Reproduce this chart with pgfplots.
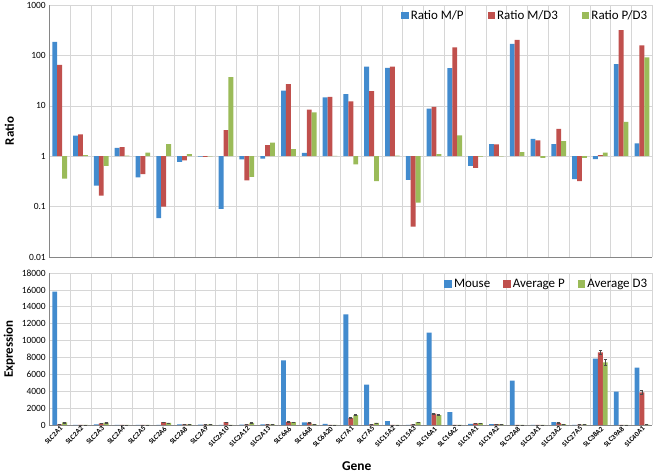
\documentclass[border=0pt]{standalone}
\usepackage{pgfplots}
\pgfplotsset{compat=1.18}
\usepackage{pgfplotstable}
\usepackage{fontspec}
\setmainfont{Carlito}
\definecolor{cblue}{RGB}{66,139,206}
\definecolor{cred}{RGB}{192,80,77}
\definecolor{cgreen}{RGB}{155,187,89}
\definecolor{gridc}{RGB}{214,214,214}
\definecolor{axc}{RGB}{134,134,134}

\pgfplotstableread{
x mp md3 pd3
0 185 65 0.36
1 2.55 2.7 1.05
2 0.26 0.166 0.64
3 1.47 1.51 1.03
4 0.38 0.44 1.18
5 0.059 0.1 1.74
6 0.77 0.83 1.1
7 0.98 0.97 0.99
8 0.09 3.3 36.9
9 0.87 0.33 0.39
10 0.9 1.66 1.85
11 20 27 1.38
12 1.17 8.4 7.4
13 14.7 15.1 1.02
14 17.1 12.2 0.69
15 60 19.6 0.32
16 56.7 60 1.03
17 0.34 0.04 0.12
18 8.8 9.5 1.1
19 55.8 144 2.6
20 0.64 0.59 0.98
21 1.74 1.71 0.99
22 169 203 1.2
23 2.2 2.06 0.93
24 1.74 3.47 2.0
25 0.35 0.32 0.93
26 0.88 1.05 1.18
27 67 316 4.8
28 1.8 158 91
}\ratios

\pgfplotstableread{
x mouse avgp avgd ep ed
0 15790 60 300 20 40
1 10 10 10 0 0
2 60 200 280 20 20
3 10 10 10 0 0
4 10 10 10 0 0
5 30 355 240 20 20
6 60 80 80 10 10
7 40 50 60 10 10
8 30 355 20 30 0
9 50 60 250 0 30
10 80 80 80 10 10
11 7660 360 340 30 30
12 320 280 100 20 10
13 130 20 10 0 0
14 13100 830 1180 60 60
15 4775 60 240 0 20
16 470 10 10 0 0
17 20 60 355 0 30
18 10930 1340 1180 80 80
19 1540 10 10 0 0
20 120 200 230 10 10
21 100 100 100 10 10
22 5250 30 10 0 0
23 10 10 10 0 0
24 350 250 100 20 10
25 30 40 60 0 10
26 7850 8600 7420 250 350
27 3950 30 10 0 0
28 6790 3870 50 200 0
}\expr

\pgfplotsset{
  common/.style={
    scale only axis, width=603bp,
    xmin=-0.5, xmax=28.5,
    ybar=0pt, bar width=4.9bp,
    xtick={0,...,28}, major tick length=0pt,
    minor xtick={-0.5,0.5,...,28.5}, minor tick length=0pt,
    xminorgrids, ymajorgrids,
    grid style={gridc, line width=0.6pt},
    minor grid style={gridc, line width=0.6pt},
    axis lines*=left,
    axis line style={axc, line width=0.6pt, -},
    tick label style={font=\fontsize{9.5}{11}\selectfont},
    /pgf/number format/assume math mode=true,
    every axis y label/.style={at={(axis description cs:0,0.5)}, xshift=-40bp, rotate=90, anchor=center, font=\bfseries\fontsize{13}{15}\selectfont},
    legend style={draw=none, fill=none, legend columns=-1,
      font=\fontsize{13}{15}\selectfont, anchor=north east},
  }
}

\begin{document}
\begin{tikzpicture}
\begin{axis}[common,
  name=top, at={(49.3bp,-257bp)}, anchor=south west,
  height=252bp,
  ymode=log, log origin=0,
  ymin=0.01, ymax=1000,
  ytick={0.01,0.1,1,10,100,1000},
  yticklabels={0.01,0.1,1,10,100,1000},
  xticklabels={},
  ylabel={Ratio},
  legend style={at={(1,1)}, xshift=0bp, yshift=-1bp,
    /tikz/every even column/.append style={column sep=22bp}},
  legend image code/.code={\fill[#1] (0bp,-3.8bp) rectangle (7.6bp,3.8bp);},
]
\addplot[fill=cblue, draw=none] table[x=x, y=mp] {\ratios};
\addplot[fill=cred, draw=none] table[x=x, y=md3] {\ratios};
\addplot[fill=cgreen, draw=none] table[x=x, y=pd3] {\ratios};
\legend{Ratio M/P, Ratio M/D3, Ratio P/D3}
\end{axis}

\begin{axis}[common,
  name=bot, at={(49.3bp,-425bp)}, anchor=south west,
  height=152bp,
  ymin=0, ymax=18000,
  ytick={0,2000,...,18000},
  scaled y ticks=false,
  yticklabel style={/pgf/number format/1000 sep={}},
  xticklabels={SLC2A1,SLC2A2,SLC2A3,SLC2A4,SLC2A5,SLC2A6,SLC2A8,SLC2A9,SLC2A10,SLC2A12,SLC2A13,SLC6A6,SLC6A8,SLC6A20,SLC7A1,SLC7A5,SLC15A2,SLC15A3,SLC16A1,SLC16A2,SLC19A1,SLC19A2,SLC22A8,SLC23A1,SLC23A2,SLC27A5,SLC38A2,SLC39A8,SLC40A1},
  xticklabel style={rotate=45, anchor=north east, inner sep=0.5bp, font=\bfseries\fontsize{7.2}{8}\selectfont},
  ylabel={Expression},
  xlabel={Gene},
  xlabel style={at={(axis description cs:0.5,0)}, anchor=center, yshift=-41bp, xshift=6bp, font=\bfseries\fontsize{13.5}{15}\selectfont},
  legend style={at={(1,1)}, xshift=0bp, yshift=-2bp,
    /tikz/every even column/.append style={column sep=11bp}},
  legend image code/.code={\fill[#1] (0bp,-3.8bp) rectangle (7.6bp,3.8bp);},
]
\addplot[fill=cblue, draw=none] table[x=x, y=mouse] {\expr};
\addplot[fill=cred, draw=none, error bars/.cd, y dir=both, y explicit, error bar style={black!70, line width=0.5pt}, error mark options={black!70, line width=0.5pt, mark size=1.5bp, rotate=90}] table[x=x, y=avgp, y error=ep] {\expr};
\addplot[fill=cgreen, draw=none, error bars/.cd, y dir=both, y explicit, error bar style={black!70, line width=0.5pt}, error mark options={black!70, line width=0.5pt, mark size=1.5bp, rotate=90}] table[x=x, y=avgd, y error=ed] {\expr};
\legend{Mouse, Average P, Average D3}
\end{axis}
\pgfresetboundingbox
\useasboundingbox (0,0) rectangle (656bp,-475bp);
\end{tikzpicture}
\end{document}
